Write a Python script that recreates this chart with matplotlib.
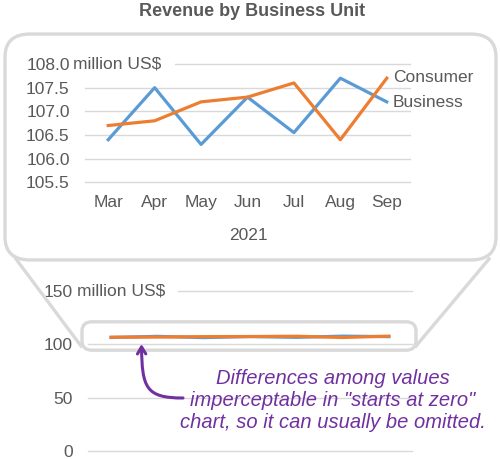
import matplotlib
matplotlib.use("Agg")
import matplotlib.pyplot as plt
from matplotlib.patches import FancyBboxPatch, FancyArrowPatch
from matplotlib.path import Path
from matplotlib.lines import Line2D

months = ["Mar", "Apr", "May", "Jun", "Jul", "Aug", "Sep"]
year_label = "2021"
consumer = [106.7, 106.8, 107.2, 107.3, 107.6, 106.4, 107.7]
business = [106.4, 107.5, 106.3, 107.3, 106.55, 107.7, 107.2]
top_ticks = [105.5, 106.0, 106.5, 107.0, 107.5, 108.0]
bottom_ticks = [0, 50, 100, 150]
unit = "million US$"
title = "Revenue by Business Unit"
note = 'Differences among values\nimperceptable in "starts at zero"\nchart, so it can usually be omitted.'

plt.rcParams['font.family'] = ['Liberation Sans', 'DejaVu Sans']
TXT = '#595959'
GRID = '#d9d9d9'
BOX = '#d9d9d9'
BLUE = '#5B9BD5'
ORANGE = '#ED7D31'
PURPLE = '#7030A0'
FS = 12.5

W, H = 500, 459
fig = plt.figure(figsize=(5, 4.59), dpi=100)

def fx(px):
    return px / W

def fy(py):
    return 1 - py / H

fig.text(fx(252), fy(11), title, ha='center', va='center', fontsize=13,
         fontweight='bold', color=TXT)

r = 25
big = FancyBboxPatch((fx(5 + r), fy(262 - r)), fx(491 - 2 * r), (230 - 2 * r) / H,
                     boxstyle=f"round,pad={r / W}", transform=fig.transFigure,
                     facecolor='none', edgecolor=BOX, linewidth=2.4, zorder=0)
fig.patches.append(big)

r2 = 10
small = FancyBboxPatch((fx(82 + r2), fy(351 - r2)), fx(334 - 2 * r2), (30 - 2 * r2) / H,
                       boxstyle=f"round,pad={r2 / W}", transform=fig.transFigure,
                       facecolor='none', edgecolor=BOX, linewidth=2.4, zorder=0)
fig.patches.append(small)

fig.lines.append(Line2D([fx(16), fx(81)], [fy(259), fy(346)], transform=fig.transFigure,
                        color=BOX, linewidth=2.4, zorder=0))
fig.lines.append(Line2D([fx(489), fx(416)], [fy(259), fy(346)], transform=fig.transFigure,
                        color=BOX, linewidth=2.4, zorder=0))

def style_axes(ax, ticks, fmt, top_start_px, left_px, right_px):
    ax.set_facecolor('none')
    for s in ax.spines.values():
        s.set_visible(False)
    ax.set_yticks(ticks)
    ax.set_yticklabels([fmt(t) for t in ticks])
    ax.tick_params(axis='y', length=0, pad=11, labelsize=FS, labelcolor=TXT)
    for t in ticks[:-1]:
        ax.axhline(t, color=GRID, linewidth=1, zorder=0)
    xmin = (top_start_px - left_px) / (right_px - left_px)
    ax.axhline(ticks[-1], xmin=xmin, xmax=1, color=GRID, linewidth=1, zorder=0)
    ax.set_xlim(-0.5, len(months) - 0.5)

L1, R1, T1, B1 = 85, 410, 64, 182.3
ax1 = fig.add_axes([fx(L1), fy(B1), (R1 - L1) / W, (B1 - T1) / H])
ax1.plot(range(len(months)), business, color=BLUE, linewidth=2.3)
ax1.plot(range(len(months)), consumer, color=ORANGE, linewidth=2.3)
ax1.set_ylim(top_ticks[0], top_ticks[-1])
style_axes(ax1, top_ticks, lambda t: f"{t:.1f}", 175, L1, R1)
ax1.set_xticks(range(len(months)))
ax1.set_xticklabels(months)
ax1.tick_params(axis='x', length=0, pad=9, labelsize=FS, labelcolor=TXT)
fig.text(fx(73), fy(T1), unit, ha='left', va='center', fontsize=FS, color=TXT)
ax1.annotate("Consumer", (len(months) - 1, consumer[-1]), xytext=(6, 1),
             textcoords='offset pixels', ha='left', va='center', fontsize=FS, color=TXT)
ax1.annotate("Business", (len(months) - 1, business[-1]), xytext=(6, -1),
             textcoords='offset pixels', ha='left', va='center', fontsize=FS, color=TXT)
fig.text(fx(248), fy(235), year_label, ha='center', va='center', fontsize=FS, color=TXT)

L2, R2, T2, B2 = 88, 412, 291, 451
ax2 = fig.add_axes([fx(L2), fy(B2), (R2 - L2) / W, (B2 - T2) / H])
ax2.plot(range(len(months)), business, color=BLUE, linewidth=2.3)
ax2.plot(range(len(months)), consumer, color=ORANGE, linewidth=2.3)
ax2.set_ylim(bottom_ticks[0], bottom_ticks[-1])
style_axes(ax2, bottom_ticks, lambda t: f"{t:d}", 178, L2, R2)
ax2.set_xticks([])
fig.text(fx(77), fy(T2), unit, ha='left', va='center', fontsize=FS, color=TXT)
for ax in (ax1, ax2):
    for ln in ax.lines:
        ln.set_clip_on(False)

fig.text(fx(333), fy(400), note, ha='center', va='center', fontsize=14.5,
         fontstyle='italic', color=PURPLE, linespacing=1.2)

verts = [(fx(183), fy(398)), (fx(146), fy(398)), (fx(142), fy(388)), (fx(141.5), fy(344))]
codes = [Path.MOVETO, Path.CURVE4, Path.CURVE4, Path.CURVE4]
arrow = FancyArrowPatch(path=Path(verts, codes), transform=fig.transFigure,
                        arrowstyle='->,head_length=5,head_width=3', color=PURPLE,
                        linewidth=2.2, mutation_scale=1)
fig.patches.append(arrow)

fig.savefig("out.png", dpi=100)
